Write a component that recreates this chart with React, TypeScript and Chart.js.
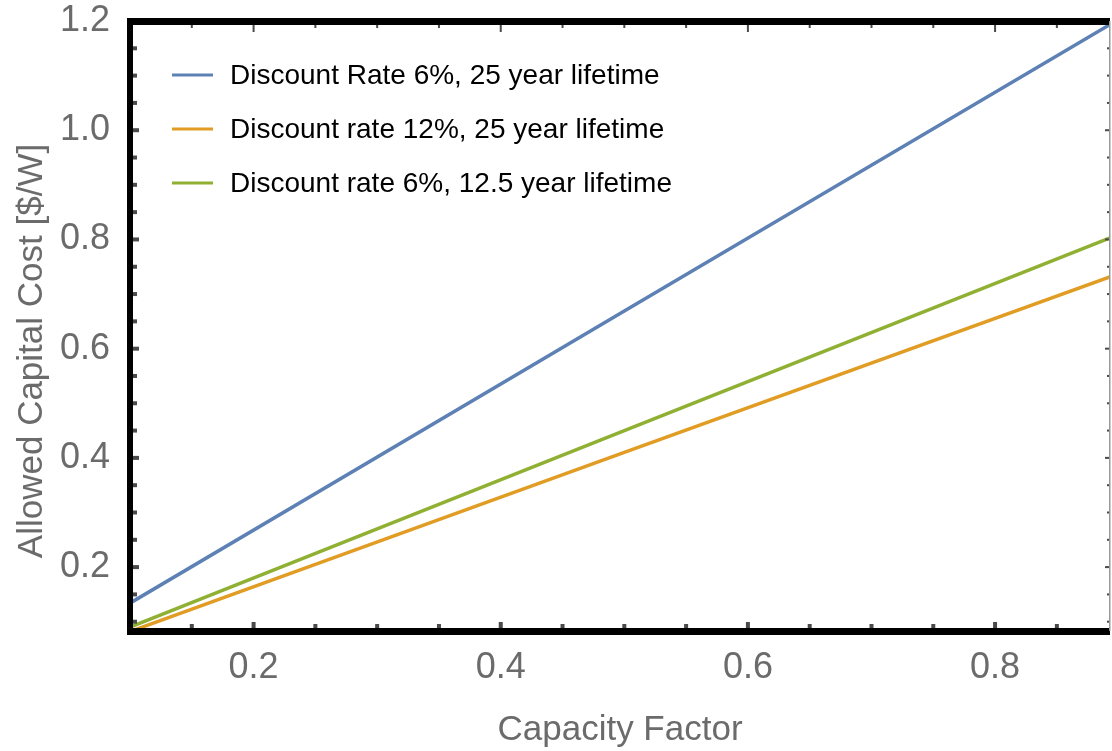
import React, { useEffect, useRef } from "react";
import { Chart, registerables } from "chart.js";

Chart.register(...registerables);

const capacityFactor = [0.1, 0.5, 0.9];
const rate6Life25 = [0.134, 0.669, 1.203];
const rate12Life25 = [0.082, 0.41, 0.737];
const rate6Life12_5 = [0.09, 0.45, 0.809];

const seriesLabels = [
  "Discount Rate 6%, 25 year lifetime",
  "Discount rate 12%, 25 year lifetime",
  "Discount rate 6%, 12.5 year lifetime",
];
const seriesColors = ["#5E81B5", "#E19C24", "#8FB032"];

const xTickValues = [0.2, 0.4, 0.6, 0.8];
const yTickValues = [0.2, 0.4, 0.6, 0.8, 1.0, 1.2];
const xTitle = "Capacity Factor";
const yTitle = "Allowed Capital Cost [$/W]";

const FONT = "'Liberation Sans', Arial, Helvetica, sans-serif";

const framePlugin = {
  id: "framePlugin",
  afterDatasetsDraw(chart: any) {
    const { ctx, chartArea, scales } = chart;
    const { left, right, top, bottom } = chartArea;
    const xs = scales.x;
    const ys = scales.y;
    ctx.save();
    // ticks
    ctx.fillStyle = "#4a4a4a";
    for (let i = 2; i <= 17; i++) {
      const v = i * 0.05;
      const px = xs.getPixelForValue(v);
      if (px < left + 2 || px > right - 2) continue;
      const major = Math.abs(v * 5 - Math.round(v * 5)) < 1e-6;
      const bl = major ? 9 : 7;
      ctx.fillRect(px - 2, bottom - bl, 4, bl);
      const tl = major ? 11 : 7;
      ctx.fillRect(px - 1, top, 2, tl);
    }
    for (let i = 2; i <= 23; i++) {
      const v = i * 0.05;
      const py = ys.getPixelForValue(v);
      if (py < top + 2 || py > bottom - 2) continue;
      const major = Math.abs(v * 5 - Math.round(v * 5)) < 1e-6;
      const ll = major ? 9 : 7;
      ctx.fillRect(left, py - 2, ll, 4);
      const rl = major ? 5 : 3;
      ctx.fillRect(right - rl, py - 1, rl, 2);
    }
    // frame
    ctx.fillStyle = "#000";
    ctx.fillRect(left - 3, top - 3, right - left + 3, 7);
    ctx.fillRect(left - 3, top - 3, 6, bottom - top + 7);
    ctx.fillRect(left - 3, bottom - 3, right - left + 3, 7);
    ctx.fillStyle = "#999";
    ctx.fillRect(right - 1, top, 1.5, bottom - top);

    // legend
    ctx.font = `28px ${FONT}`;
    ctx.textBaseline = "middle";
    ctx.textAlign = "left";
    chart.data.datasets.forEach((ds: any, i: number) => {
      const y = 75 + i * 54;
      ctx.strokeStyle = ds.borderColor;
      ctx.lineWidth = 3;
      ctx.beginPath();
      ctx.moveTo(172, y);
      ctx.lineTo(213, y);
      ctx.stroke();
      ctx.fillStyle = "#000";
      ctx.fillText(ds.label, 230, y + 1);
    });

    // axis titles
    ctx.fillStyle = "#6b6b6b";
    ctx.font = `35px ${FONT}`;
    ctx.textAlign = "center";
    ctx.textBaseline = "alphabetic";
    ctx.fillText(xTitle, (left + right) / 2, 740);
    ctx.translate(42, 351);
    ctx.rotate(-Math.PI / 2);
    ctx.fillText(yTitle, 0, 0);
    ctx.restore();
  },
};

export default function App() {
  const ref = useRef<HTMLCanvasElement | null>(null);
  useEffect(() => {
    if (!ref.current) return;
    const datasetsSrc = [rate6Life25, rate12Life25, rate6Life12_5];
    const chart = new Chart(ref.current, {
      type: "line",
      data: {
        datasets: datasetsSrc.map((arr, i) => ({
          label: seriesLabels[i],
          data: capacityFactor.map((x, j) => ({ x, y: arr[j] })),
          borderColor: seriesColors[i],
          backgroundColor: seriesColors[i],
          borderWidth: 3.5,
          pointRadius: 0,
          tension: 0,
        })),
      },
      options: {
        responsive: false,
        animation: false,
        layout: { padding: { top: 21, right: 2, left: 0, bottom: 0 } },
        plugins: { legend: { display: false }, tooltip: { enabled: false } },
        scales: {
          x: {
            type: "linear",
            min: 0.1,
            max: 0.893,
            grid: { display: false },
            border: { display: false },
            afterBuildTicks: (s: any) => {
              s.ticks = xTickValues.map((v) => ({ value: v }));
            },
            afterFit: (s: any) => {
              s.height = 120;
              s.paddingLeft = 0;
              s.paddingRight = 0;
            },
            ticks: {
              color: "#6b6b6b",
              padding: 11,
              font: { size: 36, family: FONT, lineHeight: 1 },
              callback: (v: any) => Number(v).toFixed(1),
              maxRotation: 0,
            },
          },
          y: {
            type: "linear",
            min: 0.083,
            max: 1.2,
            grid: { display: false },
            border: { display: false },
            afterBuildTicks: (s: any) => {
              s.ticks = yTickValues.map((v) => ({ value: v }));
            },
            afterFit: (s: any) => {
              s.width = 130;
              s.paddingTop = 0;
              s.paddingBottom = 0;
            },
            ticks: {
              color: "#6b6b6b",
              padding: 12,
              font: { size: 36, family: FONT, lineHeight: 1 },
              callback: (v: any) => Number(v).toFixed(1),
            },
          },
        },
      },
      plugins: [framePlugin],
    });
    return () => chart.destroy();
  }, []);
  return (
    <div style={{ position: "absolute", left: 0, top: 0, width: 1112, height: 751, background: "#fff" }}>
      <canvas ref={ref} width={1112} height={751} />
    </div>
  );
}
